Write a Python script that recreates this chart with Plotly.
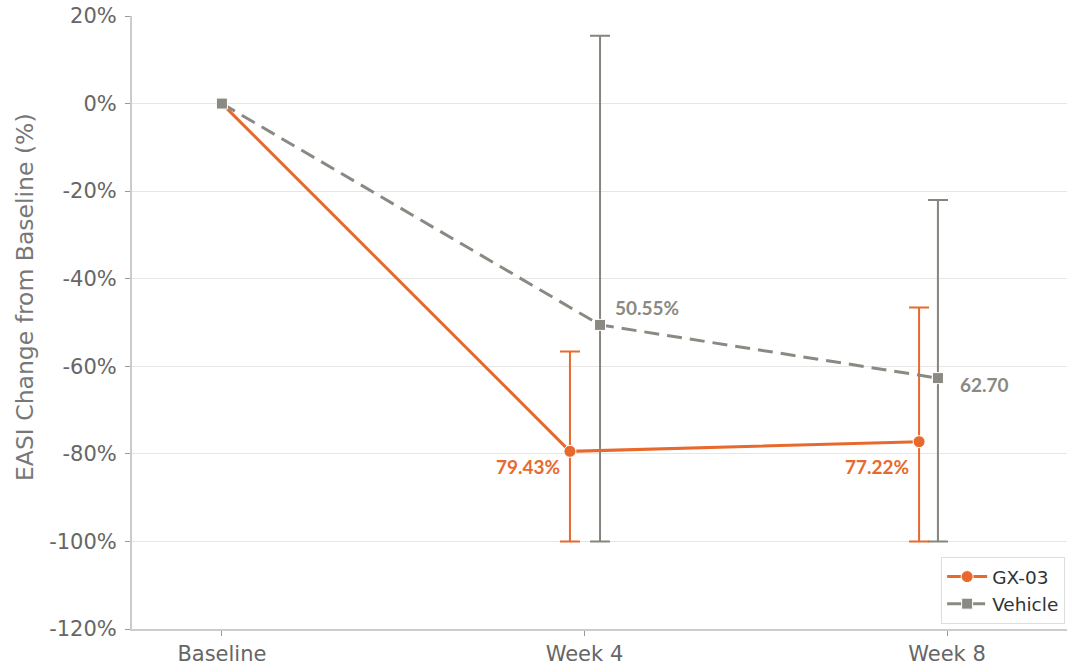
import plotly.graph_objects as go

# ---- data ----
categories = ["Baseline", "Week 4", "Week 8"]
gx03_mean = [0.0, -79.43, -77.22]
vehicle_mean = [0.0, -50.55, -62.70]
gx03_upper = [None, -56.6, -46.6]
gx03_lower = [None, -100.0, -100.0]
vehicle_upper = [None, 15.5, -22.0]
vehicle_lower = [None, -100.0, -100.0]
gx03_labels = ["", "79.43%", "77.22%"]
vehicle_labels = ["", "50.55%", "62.70"]
y_ticks = [20, 0, -20, -40, -60, -80, -100, -120]
y_title = "EASI Change from Baseline (%)"

# ---- style / layout helpers ----
gx_offset = [0.0, -0.04, -0.077]
veh_offset = [0.0, 0.043, -0.025]
ORANGE = "#E8692D"
GREY = "#8A8A82"
GREY_ERR = "#85857E"

cat_idx = list(range(len(categories)))
gx_x = [i + o for i, o in zip(cat_idx, gx_offset)]
veh_x = [i + o for i, o in zip(cat_idx, veh_offset)]

fig = go.Figure()

def err_trace(xs, ys, ups, lows, color):
    ex, ey, ep, em = [], [], [], []
    for x, y, u, l in zip(xs, ys, ups, lows):
        if u is None:
            continue
        ex.append(x); ey.append(y); ep.append(u - y); em.append(y - l)
    return go.Scatter(
        x=ex, y=ey, mode="markers", marker=dict(size=1, opacity=0),
        error_y=dict(type="data", symmetric=False, array=ep, arrayminus=em,
                     color=color, thickness=2, width=10),
        showlegend=False, hoverinfo="skip")

fig.add_trace(err_trace(veh_x, vehicle_mean, vehicle_upper, vehicle_lower, GREY_ERR))
fig.add_trace(err_trace(gx_x, gx03_mean, gx03_upper, gx03_lower, ORANGE))

fig.add_trace(go.Scatter(
    x=gx_x, y=gx03_mean, mode="lines+markers", name="GX-03",
    line=dict(color=ORANGE, width=3),
    marker=dict(symbol="circle", size=12, color=ORANGE, line=dict(color="white", width=1))))
fig.add_trace(go.Scatter(
    x=veh_x, y=vehicle_mean, mode="lines+markers", name="Vehicle",
    line=dict(color=GREY, width=3, dash="15px,8px"),
    marker=dict(symbol="square", size=11, color=GREY, line=dict(color="white", width=1))))

ann_font = "Lato, 'Open Sans', sans-serif"
gx_shifts = [None, (-8, -15), (-8, -25)]
veh_shifts = [None, (13, 17), (20, -6)]
for x, y, t, s in zip(gx_x, gx03_mean, gx03_labels, gx_shifts):
    if t:
        fig.add_annotation(x=x, y=y, text=f"<b>{t}</b>", showarrow=False,
                           xanchor="right", yanchor="middle", xshift=s[0], yshift=s[1],
                           font=dict(family=ann_font, size=19, color=ORANGE))
for x, y, t, s in zip(veh_x, vehicle_mean, vehicle_labels, veh_shifts):
    if t:
        fig.add_annotation(x=x, y=y, text=f"<b>{t}</b>", showarrow=False,
                           xanchor="left", yanchor="middle", xshift=s[0], yshift=s[1],
                           font=dict(family=ann_font, size=19, color=GREY))

# y-axis title as annotation for exact placement
fig.add_annotation(x=0, y=0.5416, xref="paper", yref="paper", text=y_title,
                   textangle=-90, showarrow=False, xanchor="center", yanchor="middle",
                   xshift=-107, font=dict(family="DejaVu Sans, sans-serif", size=23.5, color="#777777"))

fig.update_layout(
    width=1067, height=671,
    margin=dict(l=132, r=0, t=16, b=42),
    paper_bgcolor="white", plot_bgcolor="white",
    font=dict(family="DejaVu Sans, sans-serif", size=21, color="#666666"),
    showlegend=True,
    legend=dict(x=0.998, y=0.008, xanchor="right", yanchor="bottom",
                bgcolor="rgba(255,255,255,0.9)", bordercolor="#DDDDDD", borderwidth=1,
                font=dict(size=18.5, color="#333333"), tracegroupgap=0,
                itemwidth=40),
)
fig.update_xaxes(
    range=[-0.248, 2.331], tickmode="array", tickvals=cat_idx, ticktext=categories,
    showgrid=False, zeroline=False, showline=True, linecolor="#CCCCCC", linewidth=2,
    ticks="outside", ticklen=5, tickcolor="#999999", tickwidth=1,
    tickfont=dict(size=21, color="#666666"), automargin=False)
fig.update_yaxes(
    range=[-120, 20], tickmode="array", tickvals=y_ticks,
    ticktext=[f"{v}%" for v in y_ticks],
    showgrid=True, gridcolor="#E6E6E6", gridwidth=1, zeroline=False,
    showline=True, linecolor="#CCCCCC", linewidth=2,
    ticks="outside", ticklen=5, tickcolor="#999999", tickwidth=1,
    ticklabelstandoff=4,
    tickfont=dict(size=21, color="#666666"), automargin=False)

fig.write_html("out.html", config={"displayModeBar": False},
               post_script="document.body.style.margin='0';document.body.style.overflow='hidden';")
